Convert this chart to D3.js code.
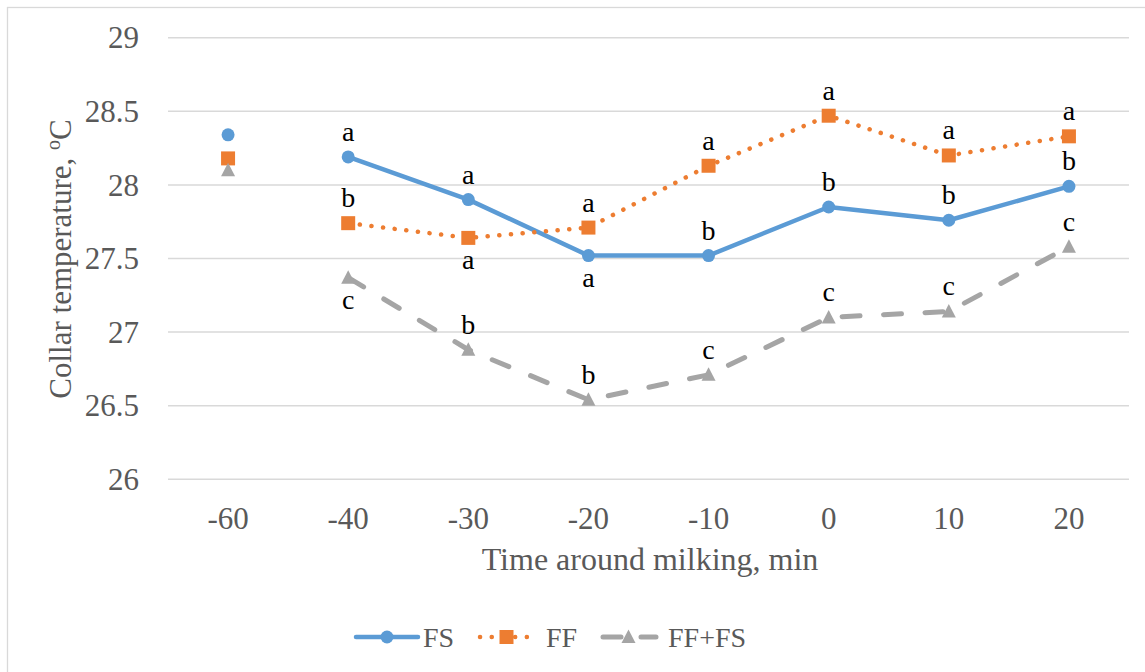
<!DOCTYPE html>
<html>
<head>
<meta charset="utf-8">
<script src="https://cdn.jsdelivr.net/npm/d3@7/dist/d3.min.js"></script>
<style>
  html, body { margin: 0; padding: 0; background: #fff; }
  svg { display: block; }
  svg text { font-family: "Liberation Serif", "Times New Roman", Tinos, serif; }
</style>
</head>
<body>
<svg id="chart" width="1145" height="672"></svg>
<script>
// Time points (min relative to milking)
const times = ["-60", "-40", "-30", "-20", "-10", "0", "10", "20"];

// Mean collar temperature, °C
const fsValues   = [28.34, 28.19, 27.90, 27.52, 27.52, 27.85, 27.76, 27.99];
const ffValues   = [28.18, 27.74, 27.64, 27.71, 28.13, 28.47, 28.20, 28.33];
const ffFsValues = [28.10, 27.37, 26.88, 26.54, 26.71, 27.10, 27.14, 27.58];

// Significance letters per time point and where they sit relative to the point
const fsLetters   = [null, "a", "a", "a", "b", "b", "b", "b"];
const fsLetterPos = [null, "above", "above", "below", "above", "above", "above", "above"];
const ffLetters   = [null, "b", "a", "a", "a", "a", "a", "a"];
const ffLetterPos = [null, "above", "below", "above", "above", "above", "above", "above"];
const ffFsLetters   = [null, "c", "b", "b", "c", "c", "c", "c"];
const ffFsLetterPos = [null, "below", "above", "above", "above", "above", "above", "above"];

const yTicks = [26, 26.5, 27, 27.5, 28, 28.5, 29];

// The -60 min baseline is shown as a stand-alone point, lines start at -40
const lineStart = 1;

const series = [
  { name: "FS", values: fsValues, letters: fsLetters, pos: fsLetterPos,
    color: "#5B9BD5", width: 4.5, dash: null, legendDash: null, marker: "circle" },
  { name: "FF", values: ffValues, letters: ffLetters, pos: ffLetterPos,
    color: "#ED7D31", width: 4.5, dash: "0.1,11.6", legendDash: "0.1,11.6", marker: "square" },
  { name: "FF+FS", values: ffFsValues, letters: ffFsLetters, pos: ffFsLetterPos,
    color: "#A5A5A5", width: 5, dash: "18,23.5", legendDash: "18,20", marker: "triangle" }
];

const SERIF = "'Liberation Serif', 'Times New Roman', Tinos, serif";
const svg = d3.select("#chart");

// Chart frame
svg.append("rect")
  .attr("x", 7.5).attr("y", 7.5)
  .attr("width", 1145).attr("height", 672)
  .attr("fill", "#fff").attr("stroke", "#D9D9D9").attr("stroke-width", 1.3);

const x = d3.scaleBand().domain(times).range([168, 1129]);
const y = d3.scaleLinear().domain([26, 29]).range([479.3, 37.7]);
const cx = t => x(t) + x.bandwidth() / 2;

// Horizontal gridlines
svg.append("g")
  .selectAll("line")
  .data(yTicks)
  .join("line")
  .attr("x1", 168).attr("x2", 1129)
  .attr("y1", d => y(d)).attr("y2", d => y(d))
  .attr("stroke", "#D9D9D9").attr("stroke-width", 1.5);

// Y axis labels
const yAxis = d3.axisLeft(y).tickValues(yTicks).tickSize(0).tickPadding(0)
  .tickFormat(d3.format("~g"));
const gy = svg.append("g").attr("transform", "translate(139,0)").call(yAxis);
gy.attr("font-family", null).attr("font-size", null);
gy.select(".domain").remove();
gy.selectAll("text")
  .style("font-family", SERIF)
  .attr("font-size", 31).attr("fill", "#595959")
  .attr("dy", "0.33em");

// X axis labels
const xAxis = d3.axisBottom(x).tickSize(0).tickPadding(0);
const gx = svg.append("g").attr("transform", "translate(0,507)").call(xAxis);
gx.attr("font-family", null).attr("font-size", null);
gx.select(".domain").remove();
gx.selectAll("text")
  .style("font-family", SERIF)
  .attr("font-size", 31).attr("fill", "#595959")
  .attr("dy", "0.71em");

// Axis titles
svg.append("text")
  .attr("x", 650).attr("y", 570)
  .attr("text-anchor", "middle")
  .style("font-family", SERIF)
  .attr("font-size", 32).attr("fill", "#595959")
  .text("Time around milking, min");

const yTitle = svg.append("text")
  .attr("transform", "translate(71,259) rotate(-90)")
  .attr("text-anchor", "middle")
  .style("font-family", SERIF)
  .attr("font-size", 31).attr("fill", "#595959");
yTitle.append("tspan").text("Collar temperature, ");
yTitle.append("tspan").attr("font-size", 20).attr("dy", -11).text("o");
yTitle.append("tspan").attr("dy", 11).text("C");

// Marker shapes
function markerPath(kind) {
  if (kind === "circle") return d3.symbol(d3.symbolCircle, Math.PI * 6.5 * 6.5)();
  if (kind === "square") return "M-7,-7H7V7H-7Z";
  return "M0,-7.5L7,6L-7,6Z";
}

const line = d3.line()
  .x((d, i) => cx(times[i + lineStart]))
  .y(d => y(d));

series.forEach(s => {
  const g = svg.append("g");
  g.append("path")
    .attr("d", line(s.values.slice(lineStart)))
    .attr("fill", "none")
    .attr("stroke", s.color)
    .attr("stroke-width", s.width)
    .attr("stroke-linecap", "round")
    .attr("stroke-linejoin", "round")
    .attr("stroke-dasharray", s.dash);

  g.selectAll("path.mk")
    .data(s.values)
    .join("path")
    .attr("class", "mk")
    .attr("d", markerPath(s.marker))
    .attr("transform", (d, i) => `translate(${cx(times[i])},${y(d)})`)
    .attr("fill", s.color);
});

// Significance letters
series.forEach(s => {
  svg.append("g")
    .selectAll("text")
    .data(s.values.map((v, i) => ({ v, i, l: s.letters[i], p: s.pos[i] })).filter(d => d.l))
    .join("text")
    .attr("x", d => cx(times[d.i]))
    .attr("y", d => y(d.v) + (d.p === "above" ? -16 : 31))
    .attr("text-anchor", "middle")
    .style("font-family", SERIF)
    .attr("font-size", 28)
    .attr("fill", "#000")
    .text(d => d.l);
});

// Legend
const legendItems = [
  { s: series[0], x0: 356, x1: 418, tx: 423 },
  { s: series[1], x0: 478, x1: 535, tx: 546 },
  { s: series[2], x0: 601, x1: 656, tx: 668 }
];
const ly = 637;
const lg = svg.append("g");
legendItems.forEach(it => {
  const s = it.s;
  lg.append("line")
    .attr("x1", it.x0 + (s.legendDash ? 2 : 0)).attr("x2", it.x1)
    .attr("y1", ly).attr("y2", ly)
    .attr("stroke", s.color)
    .attr("stroke-width", s.width)
    .attr("stroke-linecap", "round")
    .attr("stroke-dasharray", s.legendDash);
  lg.append("path")
    .attr("d", markerPath(s.marker))
    .attr("transform", `translate(${(it.x0 + it.x1) / 2},${ly})`)
    .attr("fill", s.color);
  lg.append("text")
    .attr("x", it.tx).attr("y", ly + 10)
    .style("font-family", SERIF)
    .attr("font-size", 28).attr("fill", "#595959")
    .text(s.name);
});
</script>
</body>
</html>
